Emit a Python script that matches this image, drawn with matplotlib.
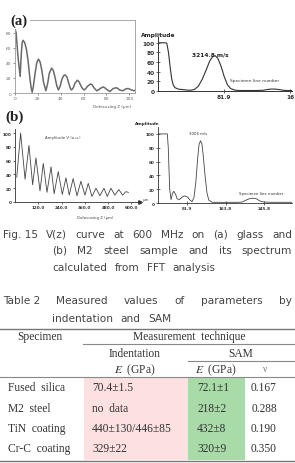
import matplotlib.pyplot as plt
from matplotlib.patches import Rectangle

plt.rcParams['mathtext.fontset'] = 'stix'

W, H = 295, 464

# (a) V(z) curve, glass : defocus z (um) / amplitude
za = [0, 1, 2.5, 4.5, 5.5, 6.3, 7, 8.5, 10, 11.5, 13, 14, 15, 16, 17.5, 19, 20.5,
      22, 23.5, 25, 27, 28.5, 30, 32, 33.5, 35, 36.5, 38, 39.5, 41, 42.5, 44,
      45.5, 47, 48.5, 49.5, 51, 52.5, 54.5, 56, 57.5, 59, 60.5, 62, 63.5, 66,
      67.5, 69, 71.5, 73, 74.5, 77, 78.5, 80, 83, 84.5, 86, 88.5, 90, 91.5, 94,
      95.5, 97, 99, 100.5, 102, 104, 105]
va = [85, 80, 50, 22, 52, 67, 70, 67, 58, 42, 20, 8, 1, 8, 25, 40, 45,
      41, 30, 14, 3, 12, 26, 33, 30, 21, 10, 4, 9, 18, 23, 24,
      21, 13, 6, 4, 7, 13, 17, 15, 10, 6, 4, 6, 9, 12,
      11, 7, 3, 4, 6, 8, 7, 5, 2, 4, 6, 7, 6, 4, 3,
      4, 5.5, 6, 5, 4, 3, 3.5]

# (a) spectrum : line number / amplitude
fa = [0, 5, 10, 11, 13, 15, 17, 19, 21, 25, 30, 35, 40, 45, 50, 55, 60, 64, 68,
      71, 74, 78, 82, 86, 90, 95, 100, 110, 120, 130, 135, 140, 145, 150, 155,
      160, 166]
sa = [100, 100, 100, 98, 80, 50, 25, 12, 7, 4, 3, 2, 1.5, 3, 10, 25, 45, 62, 72,
      73, 68, 52, 30, 13, 5, 2, 1, 1, 1, 1.5, 3, 4, 4, 3, 1.5,
      1, 1]

# (b) V(z) curve, M2 steel
zb = [9, 29, 52, 72, 91, 108, 129, 146, 165, 186, 202, 223, 244, 263, 280, 300,
      320, 340, 361, 378, 397, 418, 438, 459, 476, 495, 515, 536, 555, 572, 585]
vb = [36, 100, 33, 82, 25, 64, 16, 56, 14, 51, 12, 44, 11, 35, 10, 34,
      9, 30, 10, 27, 8, 20, 9, 20, 8, 20, 10, 18, 10, 15, 14]

# (b) spectrum
fb = [19, 30, 39, 41, 44, 47, 50, 53, 57, 60, 65, 70, 74, 78, 83, 88, 92, 96,
      100, 104, 107, 110, 113, 116, 120, 124, 128, 135, 150, 170, 190, 200, 207,
      214, 222, 230, 237, 245, 260, 280, 306]
sb = [100, 100, 100, 80, 20, 5, 14, 17, 12, 6, 5, 8, 10, 10, 8, 4, 2, 8,
      30, 65, 85, 90, 86, 68, 38, 14, 4, 1, 1, 1, 1, 1.5, 4,
      6, 7, 6, 3, 1.5, 1, 1, 1]

# Table 2
specimens = ['Fused  silica', 'M2  steel', 'TiN  coating', 'Cr-C  coating']
e_indent = ['70.4±1.5', 'no  data', '440±130/446±85', '329±22']
e_sam = ['72.1±1', '218±2', '432±8', '320±9']
nu_sam = ['0.167', '0.288', '0.190', '0.350']

fig = plt.figure(figsize=(W / 100, H / 100), dpi=100)


def px_axes(x0, y0, x1, y1):
    return fig.add_axes([x0 / W, 1 - y1 / H, (x1 - x0) / W, (y1 - y0) / H])


def small_ticks(ax, size, col, bold=False, direction='out'):
    ax.tick_params(labelsize=size, length=1.5, width=0.5, pad=1, colors=col,
                   direction=direction)
    for t in ax.get_xticklabels() + ax.get_yticklabels():
        t.set_fontweight('bold' if bold else 'normal')


# ---- (a) left
ax = px_axes(15, 21, 135, 94)
ax.plot(za, va, color='#6a6a6a', lw=1.1)
ax.set_xlim(0, 105)
ax.set_ylim(0, 97)
ax.set_xticks([0, 20, 40, 60, 80, 100])
ax.set_yticks([0, 20, 40, 60, 80])
for s in ax.spines.values():
    s.set_color('#9a9a9a')
    s.set_linewidth(0.6)
small_ticks(ax, 3.2, '#666')

# ---- (a) right
ax = px_axes(158, 38, 292, 92)
ax.plot(fa, sa, color='#333', lw=0.8)
ax.set_xlim(0, 166)
ax.set_ylim(0, 112)
ax.set_yticks([0, 20, 40, 60, 80, 100])
ax.set_xticks([81.9, 163.8])
ax.set_xticklabels(['81.9', '16'])
ax.spines[['top', 'right']].set_visible(False)
for s in ax.spines.values():
    s.set_color('#333')
    s.set_linewidth(0.7)
small_ticks(ax, 4.2, '#333', bold=True, direction='inout')
ax.tick_params(length=3)

# ---- (b) left
ax = px_axes(15, 130, 140, 203)
ax.plot(zb, vb, color='#444', lw=0.6)
ax.set_xlim(0, 645)
ax.set_ylim(0, 105.8)
ax.set_xticks([120, 240, 360, 480, 600])
ax.set_xticklabels(['120.0', '240.0', '360.0', '480.0', '600.0'])
ax.set_yticks([0, 20, 40, 60, 80, 100])
ax.spines[['top', 'right']].set_visible(False)
for s in ax.spines.values():
    s.set_color('#333')
    s.set_linewidth(0.6)
ax.plot(1, 0, '>', color='#333', ms=2.5, transform=ax.transAxes, clip_on=False)
small_ticks(ax, 3.0, '#333', bold=True)

# ---- (b) right
ax = px_axes(158, 128, 292, 204)
ax.plot(fb, sb, color='#444', lw=0.6)
ax.set_xlim(19, 306)
ax.set_ylim(0, 110)
ax.set_yticks([0, 20, 40, 60, 80, 100])
ax.set_xticks([81.9, 163.8, 245.8])
ax.set_xticklabels(['81.9', '163.8', '245.8'])
ax.spines[['top', 'right']].set_visible(False)
for s in ax.spines.values():
    s.set_color('#333')
    s.set_linewidth(0.6)
small_ticks(ax, 3.0, '#333', bold=True, direction='inout')
ax.tick_params(length=2.5)

# ---- page overlay in pixel coordinates
pg = fig.add_axes([0, 0, 1, 1])
pg.set_xlim(0, W)
pg.set_ylim(H, 0)
pg.axis('off')
pg.patch.set_alpha(0)

pg.text(19, 21, '(a)', fontsize=10.5, fontweight='bold', family='Liberation Serif',
        ha='center', va='center', color='#222',
        bbox=dict(fc='white', ec='none', pad=1.5))
pg.text(15, 117, '(b)', fontsize=11, fontweight='bold', family='Liberation Serif',
        ha='center', va='center', color='#222')
pg.text(112, 107, 'Defocusing Z (μm)', fontsize=3, ha='center', va='center', color='#555')
pg.text(158, 35, 'Amplitude', fontsize=4.2, fontweight='bold', ha='center', va='center', color='#222')
pg.text(210, 55, '3214.8 m/s', fontsize=4.2, fontweight='bold', ha='center', va='center', color='#222')
pg.text(255, 81, 'Specimen line number', fontsize=3.2, ha='center', va='center', color='#333')
pg.text(63, 138, 'Amplitude V (a.u.)', fontsize=2.8, ha='center', va='center', color='#444')
pg.text(95, 218, 'Defocusing Z (μm)', fontsize=2.8, ha='center', va='center', color='#444')
pg.text(146, 200, 'μm', fontsize=2.8, ha='center', va='center', color='#444')
pg.text(147, 124, 'Amplitude', fontsize=3, fontweight='bold', ha='center', va='center', color='#222')
pg.text(198, 134, '3006 m/s', fontsize=2.8, ha='center', va='center', color='#333')
pg.text(261, 194, 'Specimen line number', fontsize=2.8, ha='center', va='center', color='#333')

# captions: justified lines between x0 and x1, last lines with a fixed gap
caption = [
    (235, ['Fig. 15', 'V(z)', 'curve', 'at', '600', 'MHz', 'on', '(a)', 'glass', 'and'], 3, 292),
    (251, ['(b)', 'M2', 'steel', 'sample', 'and', 'its', 'spectrum'], 52, 292),
    (268, ['calculated', 'from', 'FFT', 'analysis'], 52, None),
    (301, ['Table 2', 'Measured', 'values', 'of', 'parameters', 'by'], 3, 292),
    (319, ['indentation', 'and', 'SAM'], 52, None),
]
renderer = fig.canvas.get_renderer()
for y, words, x0, x1 in caption:
    ts = [pg.text(0, y, w, fontsize=7.6, ha='left', va='center', color='#444') for w in words]
    widths = [t.get_window_extent(renderer).width for t in ts]
    gap = 7.5 if x1 is None else (x1 - x0 - sum(widths)) / (len(ts) - 1)
    x = x0
    for t, wd in zip(ts, widths):
        t.set_x(x)
        x += wd + gap

# table
serif = 'Liberation Serif'
tcol = '#333'
pg.add_patch(Rectangle((84, 379), 104, 82, fc='#fde0e0', ec='none'))
pg.add_patch(Rectangle((188, 379), 57, 82, fc='#a9dba9', ec='none'))
pg.plot([0, W], [330, 330], color='#777', lw=1.0)
pg.plot([83, W], [345, 345], color='#888', lw=0.8)
pg.plot([188, W], [362, 362], color='#888', lw=0.8)
pg.plot([0, W], [378, 378], color='#888', lw=0.8)
pg.plot([0, W], [462, 462], color='#777', lw=1.0)

fs = 8.3
pg.text(40, 337, 'Specimen', family=serif, fontsize=fs, ha='center', va='center', color=tcol)
pg.text(189, 337, 'Measurement  technique', family=serif, fontsize=fs, ha='center', va='center', color=tcol)
pg.text(135, 354, 'Indentation', family=serif, fontsize=fs, ha='center', va='center', color=tcol)
pg.text(241, 354, 'SAM', family=serif, fontsize=fs, ha='center', va='center', color=tcol)
pg.text(135, 370, '$E$  (GPa)', family=serif, fontsize=fs, ha='center', va='center', color=tcol)
pg.text(216, 370, '$E$  (GPa)', family=serif, fontsize=fs, ha='center', va='center', color=tcol)
pg.text(264, 370, 'ν', family=serif, fontsize=7, ha='center', va='center', color='#777')

row_y = [388, 409, 429, 449]
for y, s, ei, es, nu in zip(row_y, specimens, e_indent, e_sam, nu_sam):
    pg.text(8, y, s, family=serif, fontsize=fs, ha='left', va='center', color=tcol)
    pg.text(92, y, ei, family=serif, fontsize=fs, ha='left', va='center', color=tcol)
    pg.text(197, y, es, family=serif, fontsize=fs, ha='left', va='center', color=tcol)
    pg.text(264, y, nu, family=serif, fontsize=fs, ha='center', va='center', color=tcol)

fig.savefig('out.png', dpi=100)
